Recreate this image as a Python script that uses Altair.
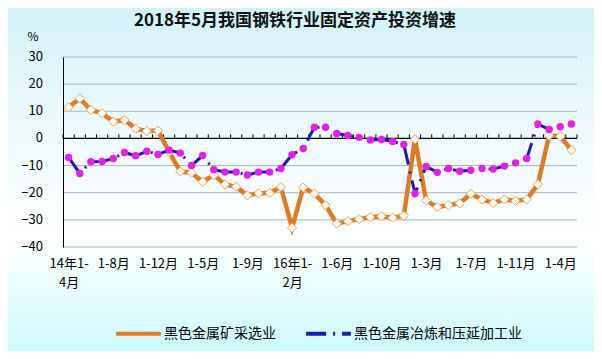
import json
import altair as alt
import pandas as pd

TITLE = "2018年5月我国钢铁行业固定资产投资增速"
SERIES = ["黑色金属矿采选业", "黑色金属冶炼和压延加工业"]
COLORS = ["#E07B25", "#1C1CB4"]

# monthly cumulative periods (Jan-Feb combined)
periods = []
for year, first, last in [(2014, 4, 12), (2015, 2, 12), (2016, 2, 12), (2017, 2, 12), (2018, 2, 5)]:
    for m in range(first, last + 1):
        periods.append(f"{year}年1-{m}月")

tick_idx = [0, 4, 8, 12, 16, 20, 24, 28, 32, 36, 40, 44]
tick_labels = ["14年1-|4月", "1-8月", "1-12月", "1-5月", "1-9月", "16年1-|2月",
               "1-6月", "1-10月", "1-3月", "1-7月", "1-11月", "1-4月"]
y_ticks = [-40, -30, -20, -10, 0, 10, 20, 30]

mining = [11.4, 14.7, 10.5, 9.3, 6.2, 6.8, 3.6, 2.7, 2.9, -5.0,
          -12.2, -12.6, -16.0, -13.5, -17.0, -17.8, -21.0, -20.2, -20.1, -17.9,
          -32.9, -18.1, -20.3, -24.6, -31.4, -30.5, -29.7, -29.0, -28.7, -29.2,
          -28.5, -0.3, -22.9, -25.3, -24.6, -23.9, -20.4, -22.5, -23.8, -22.5,
          -23.0, -22.5, -16.9, 1.0, 0.8, -4.3]
smelting = [-7.0, -12.9, -8.6, -8.5, -7.4, -5.2, -6.4, -4.7, -5.9, -4.3,
            -5.4, -10.0, -6.3, -11.5, -12.4, -12.4, -13.5, -12.4, -12.4, -11.1,
            -6.0, -3.7, 4.1, 4.1, 1.8, 1.1, 0.4, -0.6, -0.4, -1.1,
            -2.2, -20.3, -10.3, -12.5, -11.1, -12.1, -11.7, -11.1, -11.3, -10.2,
            -9.0, -7.4, 5.3, 3.3, 4.3, 5.3]

FONT = "Noto Sans CJK SC"
W, H = 514, 190
PAD = {"left": 55, "top": 49, "right": 17, "bottom": 104}

rows = []
for s, vals in zip(SERIES, [mining, smelting]):
    for i, (p, v) in enumerate(zip(periods, vals)):
        rows.append({"idx": i, "period": p, "series": s, "value": v})
df = pd.DataFrame(rows)

n = len(periods)
xscale = alt.Scale(domain=[-0.5, n - 0.5], nice=False, zero=False)
yscale = alt.Scale(domain=[-40, 30], nice=False, zero=False)

label_expr = "split(%s[indexof(%s, datum.value)], '|')" % (
    json.dumps(tick_labels, ensure_ascii=False), json.dumps(tick_idx))

x_axis = alt.Axis(values=tick_idx, labelExpr=label_expr, grid=False, ticks=False,
                  domain=False, title=None, labelPadding=10, labelFontSize=13,
                  labelFont=FONT, labelColor="#000", labelLineHeight=19,
                  labelFlush=False, labelOverlap=False, labelBound=False,
                  labelAngle=0, labelAlign="center", labelBaseline="top", zindex=2)
y_axis = alt.Axis(values=y_ticks, grid=False, ticks=False, labels=False,
                  domain=True, domainColor="#000", title=None, zindex=2)


def X(field):
    return alt.X(field, scale=xscale, axis=x_axis)


def Y(field):
    return alt.Y(field, scale=yscale, axis=y_axis)


color = alt.Color("series:N", scale=alt.Scale(domain=SERIES, range=COLORS),
                  legend=alt.Legend(title=None, orient="none", legendX=51, legendY=252,
                                    direction="horizontal", symbolType="stroke",
                                    symbolSize=2000, symbolStrokeWidth=4,
                                    labelFontSize=14, labelFont=FONT, labelColor="#000",
                                    labelOffset=1, columnPadding=22, labelLimit=400))
dash = alt.StrokeDash("series:N", scale=alt.Scale(domain=SERIES, range=[[1, 0], [20, 7, 2, 7]]),
                      legend=None)

bg = alt.Chart(pd.DataFrame({"a": [0]})).mark_rect(
    color=alt.LinearGradient(
        gradient="linear",
        stops=[alt.GradientStop(color="#D2F2F8", offset=0),
               alt.GradientStop(color="#EEFAFC", offset=0.35),
               alt.GradientStop(color="#FFFFFF", offset=0.68),
               alt.GradientStop(color="#CCFAFC", offset=1)],
        x1=0, x2=0, y1=0, y2=1)
).encode(x=alt.value(-PAD["left"]), x2=alt.value(W + PAD["right"]),
         y=alt.value(-PAD["top"]), y2=alt.value(H + PAD["bottom"]))

title_txt = alt.Chart(pd.DataFrame({"t": [TITLE]})).mark_text(
    font=FONT, fontSize=17, fontWeight="bold", color="#111"
).encode(text="t:N", x=alt.value(232), y=alt.value(-36))

pct_txt = alt.Chart(pd.DataFrame({"t": ["%"]})).mark_text(
    font=FONT, fontSize=12, color="#000"
).encode(text="t:N", x=alt.value(-30), y=alt.value(-20))

ytick_df = pd.DataFrame({"g": y_ticks})
grid = alt.Chart(ytick_df).transform_filter("datum.g != 0").mark_rule(
    color="#A9B4C0", strokeWidth=1).encode(
    y=Y("g:Q"), x=alt.value(0), x2=alt.value(W))

ylabels = alt.Chart(ytick_df).mark_text(
    font=FONT, fontSize=13, color="#000", align="right", baseline="middle"
).encode(y=Y("g:Q"), text="g:Q", x=alt.value(-20))

base = alt.Chart(df)

zero_rule = alt.Chart(pd.DataFrame({"z": [0]})).mark_rule(color="#000", strokeWidth=1.3).encode(
    y=Y("z:Q"), x=alt.value(0), x2=alt.value(W))

bounds = pd.DataFrame({"b": [k - 0.5 for k in range(n + 1)]})
ticks = alt.Chart(bounds).mark_rule(color="#000", strokeWidth=1).encode(
    x=X("b:Q"), y=alt.datum(0), y2=alt.datum(1.5))

mining_line = base.transform_filter(alt.datum.series == SERIES[0]).mark_line(
    strokeWidth=4.5).encode(x=X("idx:Q"), y=Y("value:Q"), color=color, strokeDash=dash)
mining_pts = base.transform_filter(alt.datum.series == SERIES[0]).mark_point(
    shape="diamond", filled=True, fill="#FFFDF8", stroke="#EBA45E", strokeWidth=1,
    size=85, opacity=1).encode(x=X("idx:Q"), y=Y("value:Q"))

smelt_line = base.transform_filter(alt.datum.series == SERIES[1]).mark_line(
    strokeWidth=3).encode(x=X("idx:Q"), y=Y("value:Q"), color=color, strokeDash=dash)
smelt_pts = base.transform_filter(alt.datum.series == SERIES[1]).mark_circle(
    color="#E61EE6", size=55, opacity=1).encode(x=X("idx:Q"), y=Y("value:Q"))

chart = alt.layer(bg, title_txt, pct_txt, grid, ylabels, zero_rule, ticks,
                  mining_line, mining_pts, smelt_line, smelt_pts).properties(
    width=W, height=H, padding=PAD, autosize=alt.AutoSizeParams(type="none"),
    background="#D8F6F9"
).configure_view(stroke=None)

chart.save("out.html", embed_options={"renderer": "svg", "actions": False})
